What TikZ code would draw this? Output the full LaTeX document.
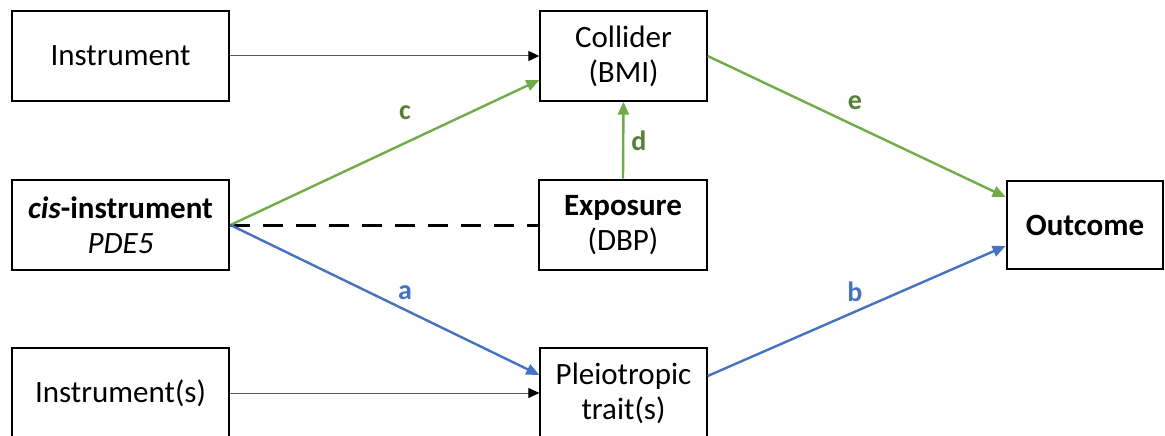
\documentclass[tikz,border=0pt]{standalone}
\usepackage{fontspec}
\setmainfont{Carlito}
\usetikzlibrary{arrows.meta}
\definecolor{lgreen}{HTML}{70AD47}
\definecolor{dgreen}{HTML}{538135}
\definecolor{lblue}{HTML}{4472C4}
\begin{document}
\begin{tikzpicture}[x=1pt,y=-1pt,
  thinbox/.style={draw=black,line width=1.3pt,inner sep=0pt,align=center,font=\fontsize{31}{35}\selectfont},
  thickbox/.style={draw=black,line width=2.8pt,inner sep=0pt,align=center,font=\fontsize{31}{35}\selectfont},
  thinarrow/.style={draw=black!65,line width=1pt,-{Triangle[length=11pt,width=10pt,fill=black,color=black]}},
  garrow/.style={draw=lgreen,line width=2.4pt,-{Triangle[length=13pt,width=11pt]}},
  barrow/.style={draw=lblue,line width=2.4pt,-{Triangle[length=13pt,width=11pt]}},
  glabel/.style={text=dgreen,font=\fontsize{28}{30}\selectfont\bfseries},
  blabel/.style={text=lblue,font=\fontsize{28}{30}\selectfont\bfseries}]
\useasboundingbox (0,0) rectangle (1165,436);
\fill[white] (0,0) rectangle (1165,436);
\node[thinbox,minimum width=217pt,minimum height=90pt] (inst) at (120.5,56) {Instrument};
\node[thinbox,minimum width=167pt,minimum height=90pt] (coll) at (623.5,56) {Collider\\(BMI)};
\node[thickbox,minimum width=217pt,minimum height=90pt] (cis) at (120.5,225) {\textbf{\textit{cis}-instrument}\\\textit{PDE5}};
\node[thickbox,minimum width=168pt,minimum height=90pt] (exp) at (623,225) {\textbf{Exposure}\\(DBP)};
\node[thickbox,minimum width=156pt,minimum height=88pt] (out) at (1085,225) {\textbf{Outcome}};
\node[thinbox,minimum width=217pt,minimum height=90pt] (insts) at (120.5,393) {Instrument(s)};
\node[thinbox,minimum width=167pt,minimum height=90pt] (pleio) at (623.5,393) {Pleiotropic\\trait(s)};
\draw[thinarrow] (inst.east) -- (coll.west);
\draw[thinarrow] (insts.east) -- (pleio.west);
\draw[black,line width=3pt,dash pattern=on 20pt off 13pt] (cis.east) -- (exp.west);
\draw[garrow] (cis.east) -- ([yshift=-24pt]coll.west);
\draw[garrow] (exp.north) -- (coll.south);
\draw[garrow] (coll.east) -- ([yshift=28pt]out.west);
\draw[barrow] (cis.east) -- ([yshift=18pt]pleio.west);
\draw[barrow] ([yshift=17pt]pleio.east) -- ([yshift=-21pt]out.west);
\node[glabel] (lc) at (405,113) {c};
\node[glabel] (ld) at (639,141) {d};
\node[glabel] (le) at (855,103) {e};
\node[blabel] (la) at (405,293) {a};
\node[blabel] (lb) at (855,292) {b};
\end{tikzpicture}
\end{document}
